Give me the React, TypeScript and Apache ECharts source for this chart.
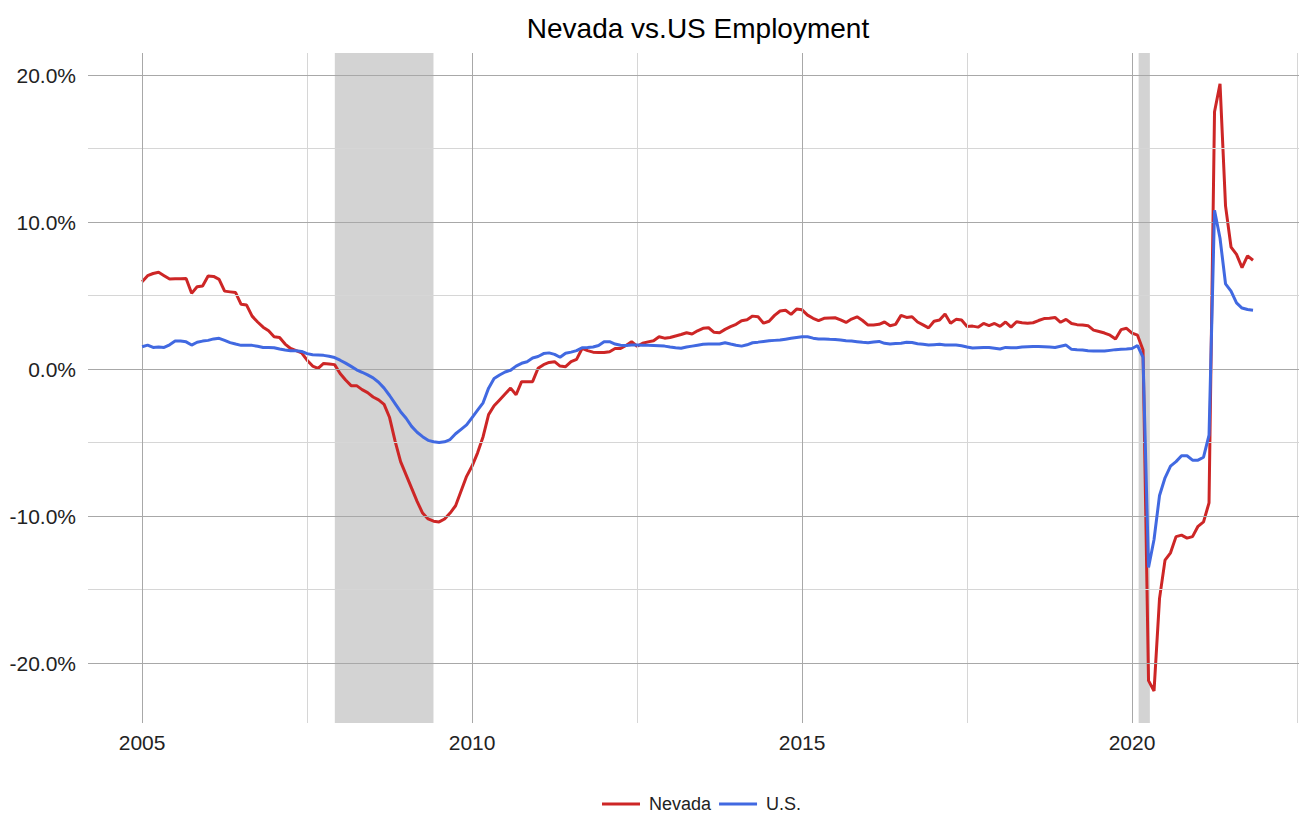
import React, { useEffect, useRef } from "react";
import * as echarts from "echarts";

// Monthly year-over-year employment change (%), Jan 2005 .. Nov 2021
const startYear = 2005;

const nevada: number[] = [
  // 2005
  5.94, 6.35, 6.5, 6.58, 6.35, 6.12, 6.15, 6.15, 6.16, 5.15, 5.6, 5.65,
  // 2006
  6.33, 6.3, 6.1, 5.3, 5.25, 5.2, 4.4, 4.35, 3.6, 3.2, 2.85, 2.6,
  // 2007
  2.2, 2.15, 1.7, 1.4, 1.25, 1.1, 0.6, 0.2, 0.05, 0.38, 0.35, 0.3,
  // 2008
  -0.3, -0.75, -1.13, -1.13, -1.4, -1.6, -1.9, -2.1, -2.4, -3.3, -4.9, -6.3,
  // 2009
  -7.2, -8.1, -9.0, -9.8, -10.2, -10.35, -10.4, -10.2, -9.8, -9.3, -8.3, -7.3,
  // 2010
  -6.6, -5.7, -4.6, -3.1, -2.5, -2.1, -1.7, -1.3, -1.75, -0.86, -0.86, -0.86,
  // 2011
  0.05, 0.3, 0.45, 0.5, 0.2, 0.16, 0.5, 0.66, 1.4, 1.25, 1.15, 1.13,
  // 2012
  1.13, 1.18, 1.4, 1.4, 1.6, 1.86, 1.55, 1.75, 1.85, 1.93, 2.2, 2.1,
  // 2013
  2.15, 2.25, 2.35, 2.47, 2.38, 2.6, 2.77, 2.81, 2.5, 2.47, 2.7, 2.88,
  // 2014
  3.04, 3.29, 3.35, 3.6, 3.55, 3.12, 3.25, 3.65, 3.95, 4.0, 3.72, 4.08,
  // 2015
  4.03, 3.67, 3.45, 3.29, 3.45, 3.47, 3.49, 3.35, 3.17, 3.4, 3.55, 3.3,
  // 2016
  2.99, 3.0, 3.04, 3.2, 2.95, 3.04, 3.65, 3.51, 3.56, 3.2, 3.0, 2.8,
  // 2017
  3.25, 3.33, 3.74, 3.11, 3.38, 3.33, 2.9, 2.92, 2.85, 3.1, 2.95, 3.1,
  // 2018
  2.9, 3.2, 2.85, 3.22, 3.15, 3.11, 3.15, 3.3, 3.43, 3.45, 3.51, 3.18,
  // 2019
  3.38, 3.1, 3.02, 3.0, 2.95, 2.65, 2.55, 2.45, 2.3, 2.05, 2.68, 2.77,
  // 2020
  2.45, 2.3, 1.3, -21.2, -21.9, -15.6, -13.0, -12.5, -11.4, -11.3, -11.5, -11.4,
  // 2021
  -10.7, -10.4, -9.1, 17.5, 19.4, 11.1, 8.3, 7.8, 6.9, 7.7, 7.4,
];

const us: number[] = [
  // 2005
  1.52, 1.63, 1.47, 1.5, 1.47, 1.65, 1.9, 1.9, 1.85, 1.63, 1.82, 1.9,
  // 2006
  1.95, 2.05, 2.09, 1.95, 1.8, 1.7, 1.61, 1.61, 1.61, 1.55, 1.47, 1.47,
  // 2007
  1.45, 1.36, 1.3, 1.25, 1.25, 1.2, 1.05, 0.97, 0.95, 0.93, 0.87, 0.78,
  // 2008
  0.6, 0.4, 0.18, -0.05, -0.22, -0.4, -0.6, -0.9, -1.3, -1.8, -2.35, -2.9,
  // 2009
  -3.35, -3.9, -4.3, -4.6, -4.85, -4.95, -5.0, -4.95, -4.8, -4.4, -4.1, -3.8,
  // 2010
  -3.3, -2.8, -2.3, -1.3, -0.65, -0.41, -0.2, -0.08, 0.2, 0.39, 0.5, 0.75,
  // 2011
  0.85, 1.05, 1.1, 1.0, 0.8, 1.07, 1.15, 1.25, 1.45, 1.47, 1.5, 1.6,
  // 2012
  1.85, 1.86, 1.7, 1.62, 1.6, 1.63, 1.63, 1.62, 1.61, 1.6, 1.58, 1.56,
  // 2013
  1.5, 1.45, 1.41, 1.5, 1.56, 1.62, 1.68, 1.7, 1.7, 1.7, 1.79, 1.7,
  // 2014
  1.62, 1.56, 1.65, 1.79, 1.83, 1.88, 1.92, 1.95, 1.97, 2.03, 2.09, 2.15,
  // 2015
  2.2, 2.2, 2.1, 2.05, 2.04, 2.02, 2.01, 1.97, 1.93, 1.9, 1.86, 1.82,
  // 2016
  1.79, 1.84, 1.88, 1.75, 1.7, 1.73, 1.76, 1.82, 1.8, 1.72, 1.68, 1.64,
  // 2017
  1.66, 1.68, 1.63, 1.63, 1.63, 1.58, 1.5, 1.43, 1.45, 1.47, 1.47, 1.42,
  // 2018
  1.36, 1.47, 1.45, 1.45, 1.5, 1.52, 1.54, 1.53, 1.52, 1.5, 1.47, 1.55,
  // 2019
  1.63, 1.34, 1.31, 1.29, 1.25, 1.22, 1.22, 1.22, 1.27, 1.32, 1.34, 1.36,
  // 2020
  1.4, 1.6, 0.8, -13.5, -11.6, -8.6, -7.4, -6.6, -6.3, -5.9, -5.9, -6.2,
  // 2021
  -6.2, -6.0, -4.5, 10.8, 8.9, 5.8, 5.3, 4.5, 4.15, 4.05, 4.0,
];

const recessions: [number, number][] = [
  [2007.92, 2009.415],
  [2020.1, 2020.27],
];

const xMajor = [2005, 2010, 2015, 2020];
const xMinor = [2007.5, 2012.5, 2017.5, 2022.5];
const yMajor = [-20, -10, 0, 10, 20];
const yMinor = [-15, -5, 5, 15];

const toPoints = (vals: number[]) =>
  vals.map((v, i) => [startYear + i / 12, v]);

export default function App() {
  const ref = useRef<HTMLDivElement>(null);

  useEffect(() => {
    if (!ref.current) return;
    const chart = echarts.init(ref.current, null, { renderer: "svg" });
    const font = "Liberation Sans, Arial, sans-serif";
    const majorColor = "#a8a8a8";
    const minorColor = "#d6d6d6";

    const gridLines = [
      ...xMinor.map((x) => ({ xAxis: x, lineStyle: { color: minorColor, width: 1, type: "solid" } })),
      ...yMinor.map((y) => ({ yAxis: y, lineStyle: { color: minorColor, width: 1, type: "solid" } })),
      ...xMajor.map((x) => ({ xAxis: x, lineStyle: { color: majorColor, width: 1, type: "solid" } })),
      ...yMajor.map((y) => ({ yAxis: y, lineStyle: { color: majorColor, width: 1, type: "solid" } })),
    ];

    chart.setOption({
      animation: false,
      textStyle: { fontFamily: font },
      graphic: [
        {
          type: "text",
          x: 698,
          y: 28,
          style: {
            text: "Nevada vs.US Employment",
            fontFamily: font,
            fontSize: 28,
            fill: "#000",
            textAlign: "center",
            textVerticalAlign: "middle",
          },
        },
      ],
      grid: { left: 88, right: 0, top: 53, bottom: 91, containLabel: false },
      legend: {
        data: ["Nevada", "U.S."],
        left: 602,
        top: 795,
        padding: 0,
        icon: "rect",
        itemWidth: 38,
        itemHeight: 3,
        itemGap: 8,
        textStyle: {
          fontFamily: font,
          fontSize: 18,
          lineHeight: 18,
          color: "#222",
          padding: [0, 0, 0, 4],
        },
      },
      xAxis: {
        type: "value",
        min: 2004.18,
        max: 2022.53,
        axisLine: { show: false },
        axisTick: { show: false },
        splitLine: { show: false },
        axisLabel: {
          customValues: xMajor,
          formatter: (v: number) => String(Math.round(v)),
          fontFamily: font,
          fontSize: 21,
          color: "#222",
          margin: 9,
        },
      },
      yAxis: {
        type: "value",
        min: -24.08,
        max: 21.5,
        axisLine: { show: false },
        axisTick: { show: false },
        splitLine: { show: false },
        axisLabel: {
          customValues: yMajor,
          formatter: (v: number) => v.toFixed(1) + "%",
          fontFamily: font,
          fontSize: 21,
          color: "#222",
          margin: 12,
        },
      },
      series: [
        {
          name: "shade",
          type: "line",
          z: 1,
          data: [[2005, 0]],
          showSymbol: false,
          lineStyle: { opacity: 0 },
          silent: true,
          markArea: {
            silent: true,
            itemStyle: { color: "#d3d3d3" },
            data: recessions.map(([a, b]) => [{ xAxis: a }, { xAxis: b }]),
          },
        },
        {
          name: "grid",
          type: "line",
          z: 2,
          data: [[2005, 0]],
          showSymbol: false,
          lineStyle: { opacity: 0 },
          silent: true,
          markLine: {
            silent: true,
            symbol: ["none", "none"],
            label: { show: false },
            emphasis: { disabled: true },
            data: gridLines,
          },
        },
        {
          name: "Nevada",
          type: "line",
          z: 4,
          data: toPoints(nevada),
          showSymbol: false,
          color: "#CD2626",
          lineStyle: { color: "#CD2626", width: 3 },
        },
        {
          name: "U.S.",
          type: "line",
          z: 5,
          data: toPoints(us),
          showSymbol: false,
          color: "#4169E1",
          lineStyle: { color: "#4169E1", width: 3 },
        },
      ],
    });

    return () => chart.dispose();
  }, []);

  return (
    <div
      ref={ref}
      style={{ position: "fixed", left: 0, top: 0, width: 1299, height: 814, background: "#fff" }}
    />
  );
}
